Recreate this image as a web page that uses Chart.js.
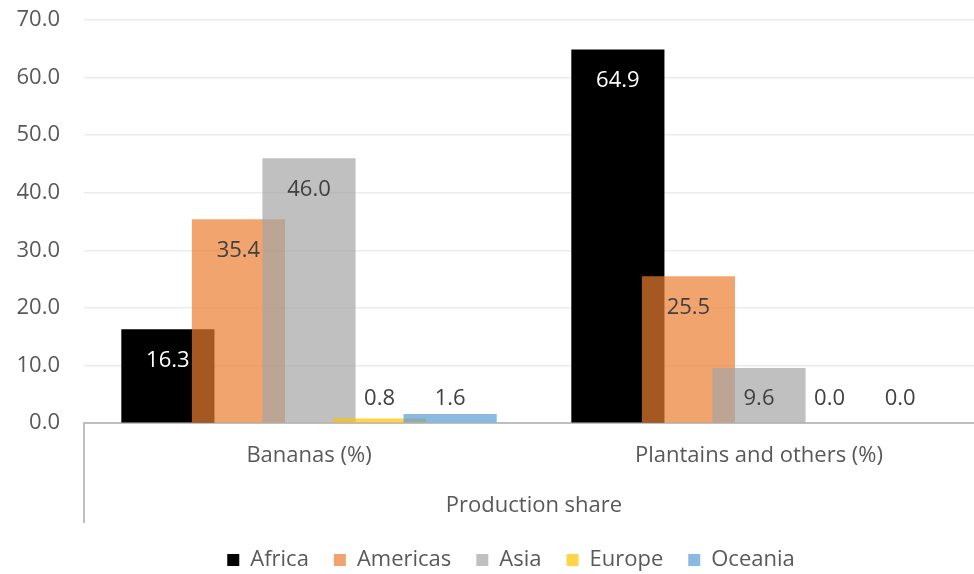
<!DOCTYPE html>
<html>
<head>
<meta charset="utf-8">
<script src="https://cdn.jsdelivr.net/npm/chart.js@4.4.1/dist/chart.umd.min.js"></script>
<style>
    html, body { margin: 0; padding: 0; background: #fff; overflow: hidden; }
    #wrap { width: 984px; height: 581px; }
</style>
</head>
<body>
<div id="wrap"><canvas id="chart"></canvas></div>
<script>
const categories = ['Bananas (%)', 'Plantains and others (%)'];
const regions = ['Africa', 'Americas', 'Asia', 'Europe', 'Oceania'];
const africa = [16.3, 64.9];
const americas = [35.4, 25.5];
const asia = [46.0, 9.6];
const europe = [0.8, 0.0];
const oceania = [1.6, 0.0];
const yMin = 0;
const yMax = 70;
const yStep = 10;
const groupTitle = 'Production share';

const seriesValues = [africa, americas, asia, europe, oceania];
const seriesColors = ['#000000', 'rgba(237,125,49,0.7)', 'rgba(165,165,165,0.7)', 'rgba(255,192,0,0.7)', 'rgba(91,155,213,0.7)'];
const labelColors = ['#ffffff', '#404040', '#404040', '#404040', '#404040'];

const FONT = "'Open Sans', sans-serif";
const GREY_TEXT = '#595959';
const AXIS_LINE = '#bfbfbf';

Chart.defaults.font.family = FONT;
Chart.defaults.font.size = 22;
Chart.defaults.color = GREY_TEXT;

// Excel draws the first series underneath, so paint datasets left to right
// and put the value labels on top afterwards.
const paintInOrder = {
    id: 'paintInOrder',
    afterLayout(chart) {
        // the legend sits a bit right of the canvas centre in the original
        chart.legend.left += 19;
        chart.legend.right += 19;
    },
    beforeDatasetsDraw(chart) {
        const ctx = chart.ctx;
        const metas = chart.getSortedVisibleDatasetMetas();
        metas.forEach(meta => meta.controller.draw());

        const base = chart.scales.y.getPixelForValue(0);
        ctx.save();
        ctx.font = '22px ' + FONT;
        ctx.textAlign = 'center';
        ctx.textBaseline = 'middle';
        metas.forEach(meta => {
            const ds = chart.data.datasets[meta.index];
            meta.data.forEach((bar, i) => {
                const y = Math.min(bar.y + 31, base - 24);
                ctx.fillStyle = labelColors[meta.index];
                ctx.fillText(ds.data[i].toFixed(1), bar.x, y);
            });
        });
        ctx.restore();
        return false;
    },
    afterDraw(chart) {
        // left bracket of the multi-level category axis
        const ctx = chart.ctx;
        const x = chart.chartArea.left;
        ctx.save();
        ctx.strokeStyle = AXIS_LINE;
        ctx.lineWidth = 2;
        ctx.beginPath();
        ctx.moveTo(x, chart.chartArea.bottom);
        ctx.lineTo(x, chart.scales.x.bottom - 1);
        ctx.stroke();
        ctx.restore();
    }
};

new Chart(document.getElementById('chart'), {
    type: 'bar',
    data: {
        labels: categories,
        datasets: regions.map((name, i) => ({
            label: name,
            data: seriesValues[i],
            backgroundColor: seriesColors[i],
            borderWidth: 0,
            categoryPercentage: 0.784,
            barPercentage: 1.32
        }))
    },
    options: {
        responsive: true,
        maintainAspectRatio: false,
        animation: false,
        layout: { padding: { left: 0, top: 20, right: 0, bottom: 0 } },
        plugins: {
            tooltip: { enabled: false },
            legend: {
                position: 'bottom',
                labels: {
                    boxWidth: 12,
                    boxHeight: 12,
                    padding: 25,
                    color: GREY_TEXT,
                    font: { size: 22 }
                }
            }
        },
        scales: {
            x: {
                grid: { display: false },
                border: { display: true, color: AXIS_LINE, width: 2 },
                ticks: { padding: 11, color: GREY_TEXT, font: { size: 22 } },
                title: {
                    display: true,
                    text: groupTitle,
                    color: GREY_TEXT,
                    font: { size: 22 },
                    padding: { top: 13, bottom: 5 }
                }
            },
            y: {
                min: yMin,
                max: yMax,
                afterFit(scale) {
                    scale.width = 84;
                    scale.paddingTop = 0;
                    scale.paddingBottom = 0;
                },
                grid: {
                    drawTicks: false,
                    lineWidth: 1.5,
                    color: c => (c.tick && c.tick.value === 0) ? 'rgba(0,0,0,0)' : '#ececec'
                },
                border: { display: false },
                ticks: {
                    stepSize: yStep,
                    padding: 24,
                    color: GREY_TEXT,
                    font: { size: 22 },
                    callback: v => v.toFixed(1)
                }
            }
        }
    },
    plugins: [paintInOrder]
});
</script>
</body>
</html>
